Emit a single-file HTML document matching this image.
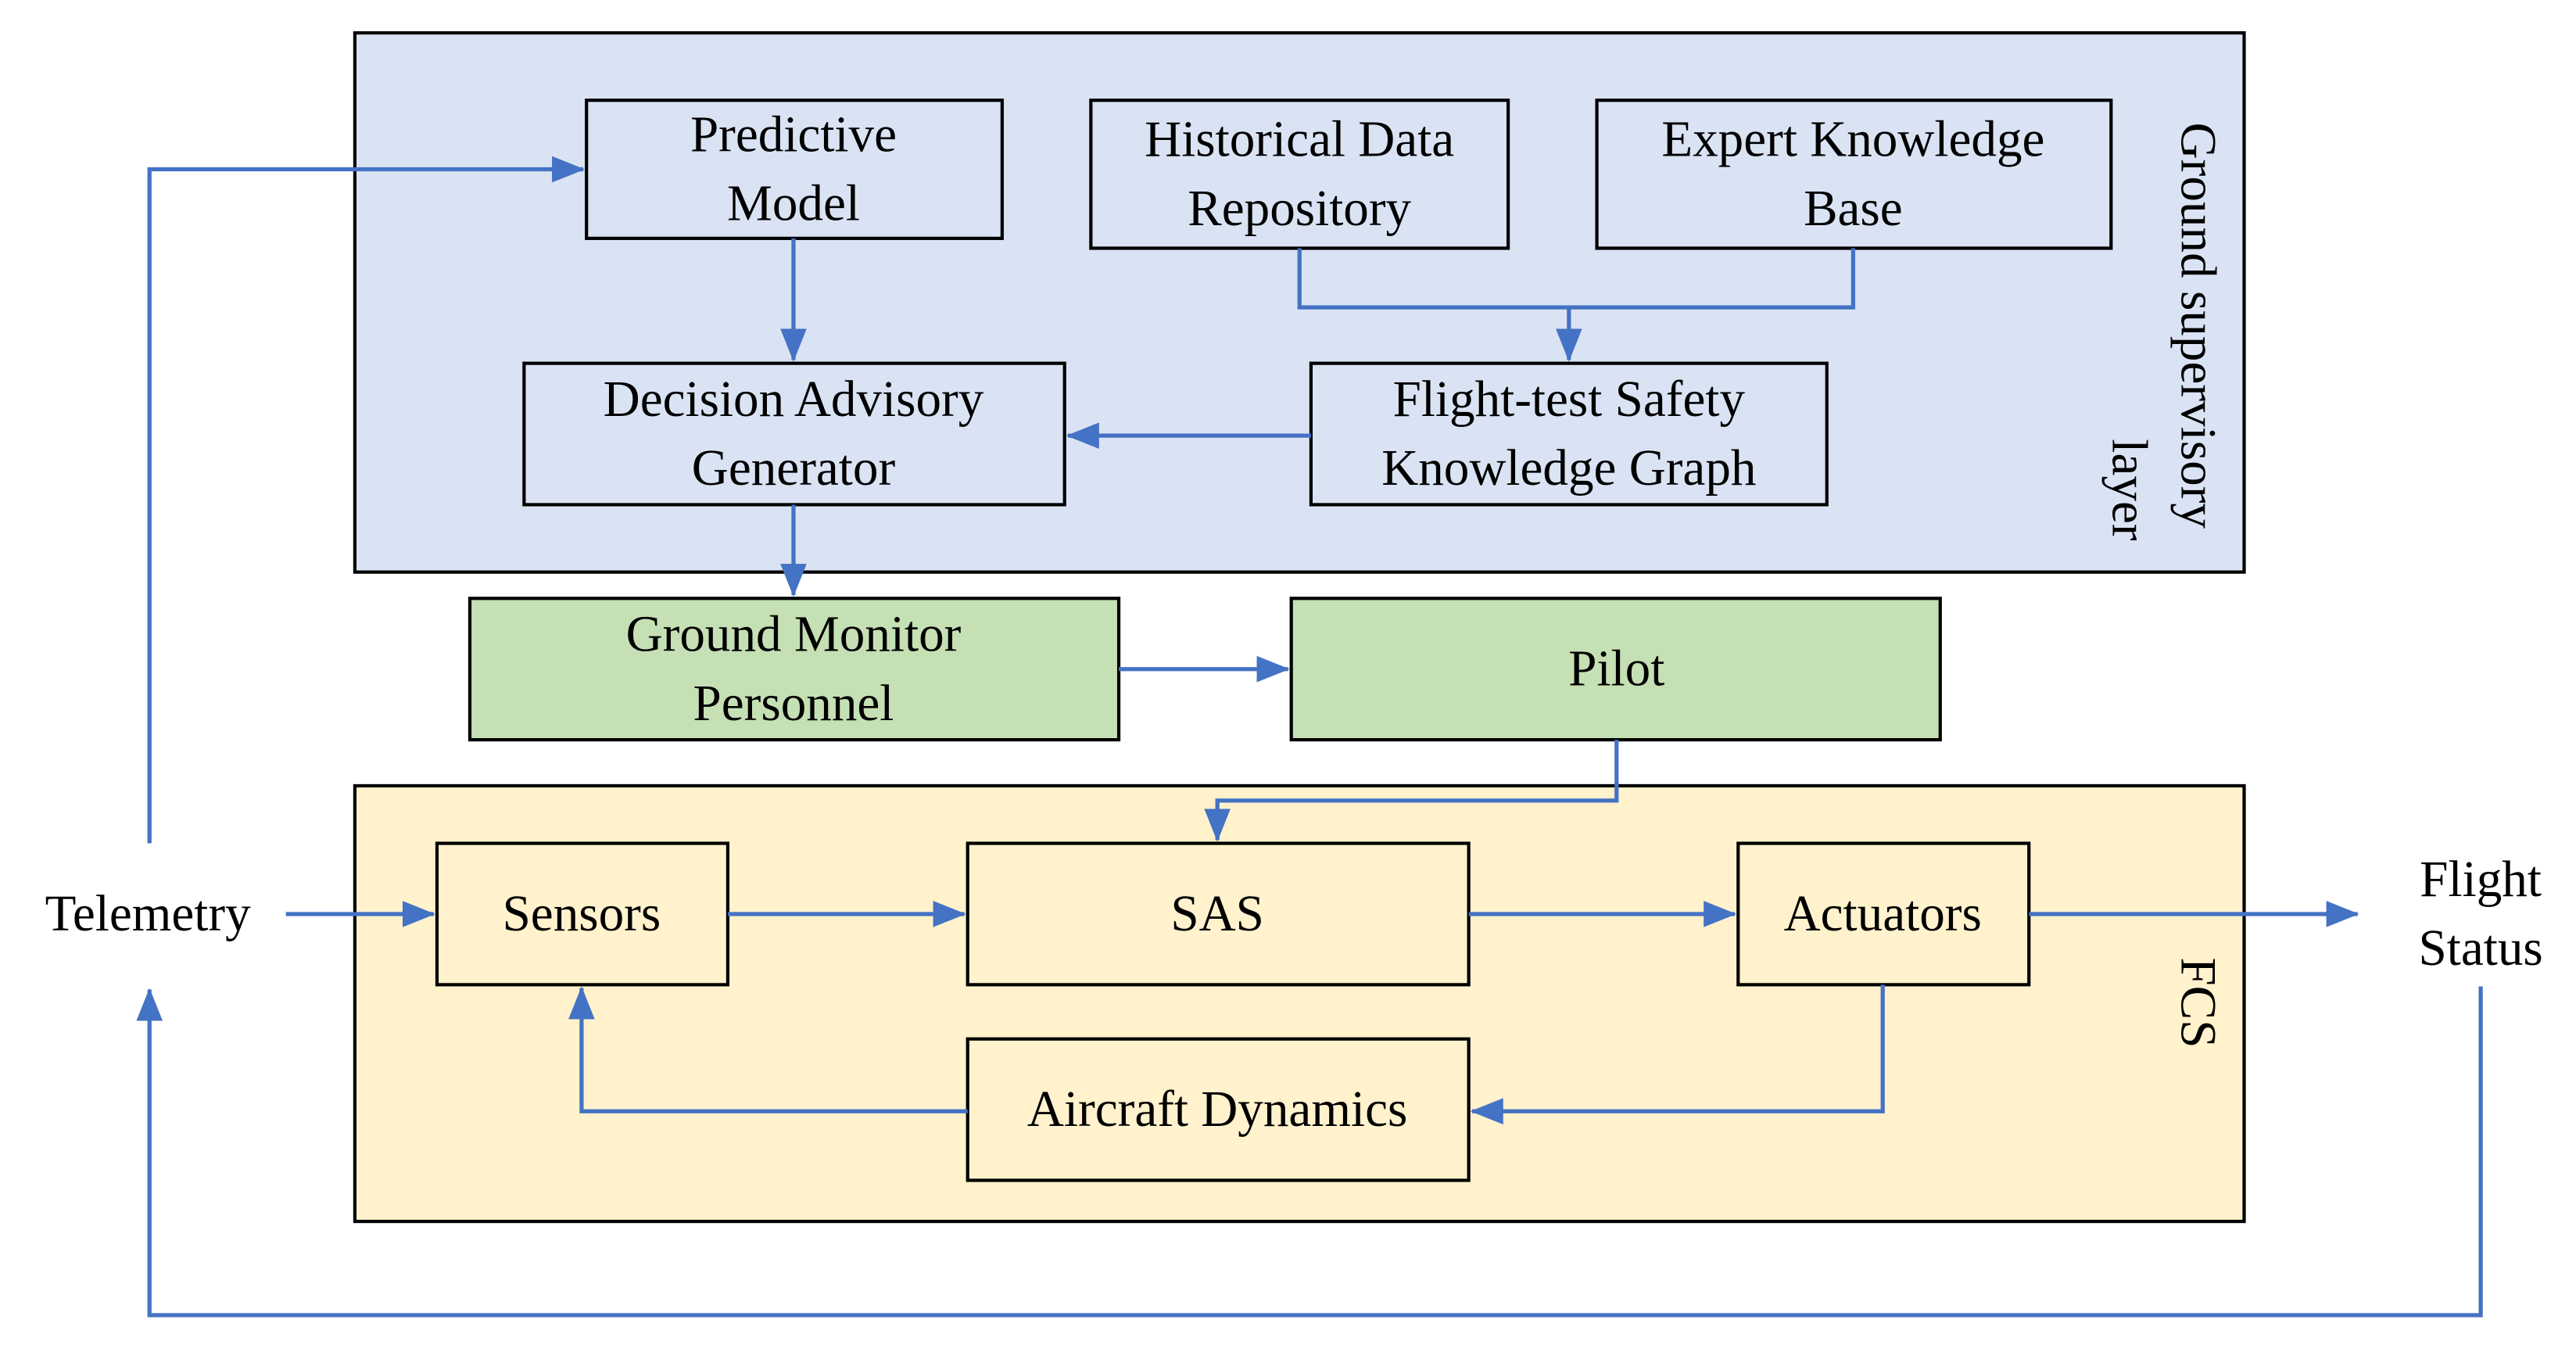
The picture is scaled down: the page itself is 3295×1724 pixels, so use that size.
<!DOCTYPE html>
<html><head><meta charset="utf-8"><style>
html,body{margin:0;padding:0;background:#fff;}
svg{display:block;}
text{font-family:"Liberation Serif",serif;font-size:31px;fill:#000;text-anchor:middle;dominant-baseline:central;}
</style></head><body>
<svg width="3295" height="1724" viewBox="0 0 1568 820" preserveAspectRatio="none" xmlns="http://www.w3.org/2000/svg">
<defs>
<marker id="a" markerWidth="10" markerHeight="10" refX="9" refY="5" orient="auto" markerUnits="userSpaceOnUse">
<path d="M0,0 L10,5 L0,10 z" fill="#4472c4"/>
</marker>
<marker id="b" markerWidth="20" markerHeight="16" refX="19" refY="8" orient="auto" markerUnits="userSpaceOnUse">
<path d="M0,0 L20,8 L0,16 z" fill="#4472c4"/>
</marker>
</defs>
<g stroke="#000" stroke-width="2">
<rect x="216" y="20" width="1150" height="328" fill="#dae3f3"/>
<rect x="216" y="478" width="1150" height="265" fill="#fff2cc"/>
<rect x="357" y="61" width="253" height="84" fill="#dae3f3"/>
<rect x="664" y="61" width="254" height="90" fill="#dae3f3"/>
<rect x="972" y="61" width="313" height="90" fill="#dae3f3"/>
<rect x="319" y="221" width="329" height="86" fill="#dae3f3"/>
<rect x="798" y="221" width="314" height="86" fill="#dae3f3"/>
<rect x="286" y="364" width="395" height="86" fill="#c5e0b4"/>
<rect x="786" y="364" width="395" height="86" fill="#c5e0b4"/>
<rect x="266" y="513" width="177" height="86" fill="#fff2cc"/>
<rect x="589" y="513" width="305" height="86" fill="#fff2cc"/>
<rect x="1058" y="513" width="177" height="86" fill="#fff2cc"/>
<rect x="589" y="632" width="305" height="86" fill="#fff2cc"/>
</g>
<g stroke="#4472c4" stroke-width="2.5" fill="none">
<polyline points="91,513 91,103 355,103" marker-end="url(#b)"/>
<polyline points="483,145 483,219" marker-end="url(#b)"/>
<polyline points="791,151 791,187 1128,187 1128,151"/>
<polyline points="955,187 955,219" marker-end="url(#b)"/>
<polyline points="798,265 650,265" marker-end="url(#b)"/>
<polyline points="483,307 483,362" marker-end="url(#b)"/>
<polyline points="681,407 784,407" marker-end="url(#b)"/>
<polyline points="984,450 984,487 741,487 741,511" marker-end="url(#b)"/>
<polyline points="174,556 264,556" marker-end="url(#b)"/>
<polyline points="443,556 587,556" marker-end="url(#b)"/>
<polyline points="894,556 1056,556" marker-end="url(#b)"/>
<polyline points="1235,556 1435,556" marker-end="url(#b)"/>
<polyline points="1146,599 1146,676 896,676" marker-end="url(#b)"/>
<polyline points="589,676 354,676 354,601" marker-end="url(#b)"/>
<polyline points="1510,600 1510,800 91,800 91,602" marker-end="url(#b)"/>
</g>
<text x="483" y="82">Predictive</text><text x="483" y="124">Model</text>
<text x="791" y="85">Historical Data</text><text x="791" y="127">Repository</text>
<text x="1128" y="85">Expert Knowledge</text><text x="1128" y="127">Base</text>
<text x="483" y="243">Decision Advisory</text><text x="483" y="285">Generator</text>
<text x="955" y="243">Flight-test Safety</text><text x="955" y="285">Knowledge Graph</text>
<text x="483" y="386">Ground Monitor</text><text x="483" y="428">Personnel</text>
<text x="984" y="407">Pilot</text>
<text x="354" y="556">Sensors</text>
<text x="741" y="556">SAS</text>
<text x="1146" y="556">Actuators</text>
<text x="741" y="675">Aircraft Dynamics</text>
<text x="90" y="556">Telemetry</text>
<text x="1510" y="535">Flight</text><text x="1510" y="577">Status</text>
<text transform="translate(1338,198) rotate(90)">Ground supervisory</text>
<text transform="translate(1296,298) rotate(90)">layer</text>
<text transform="translate(1338,610) rotate(90)">FCS</text>
</svg>
</body></html>
